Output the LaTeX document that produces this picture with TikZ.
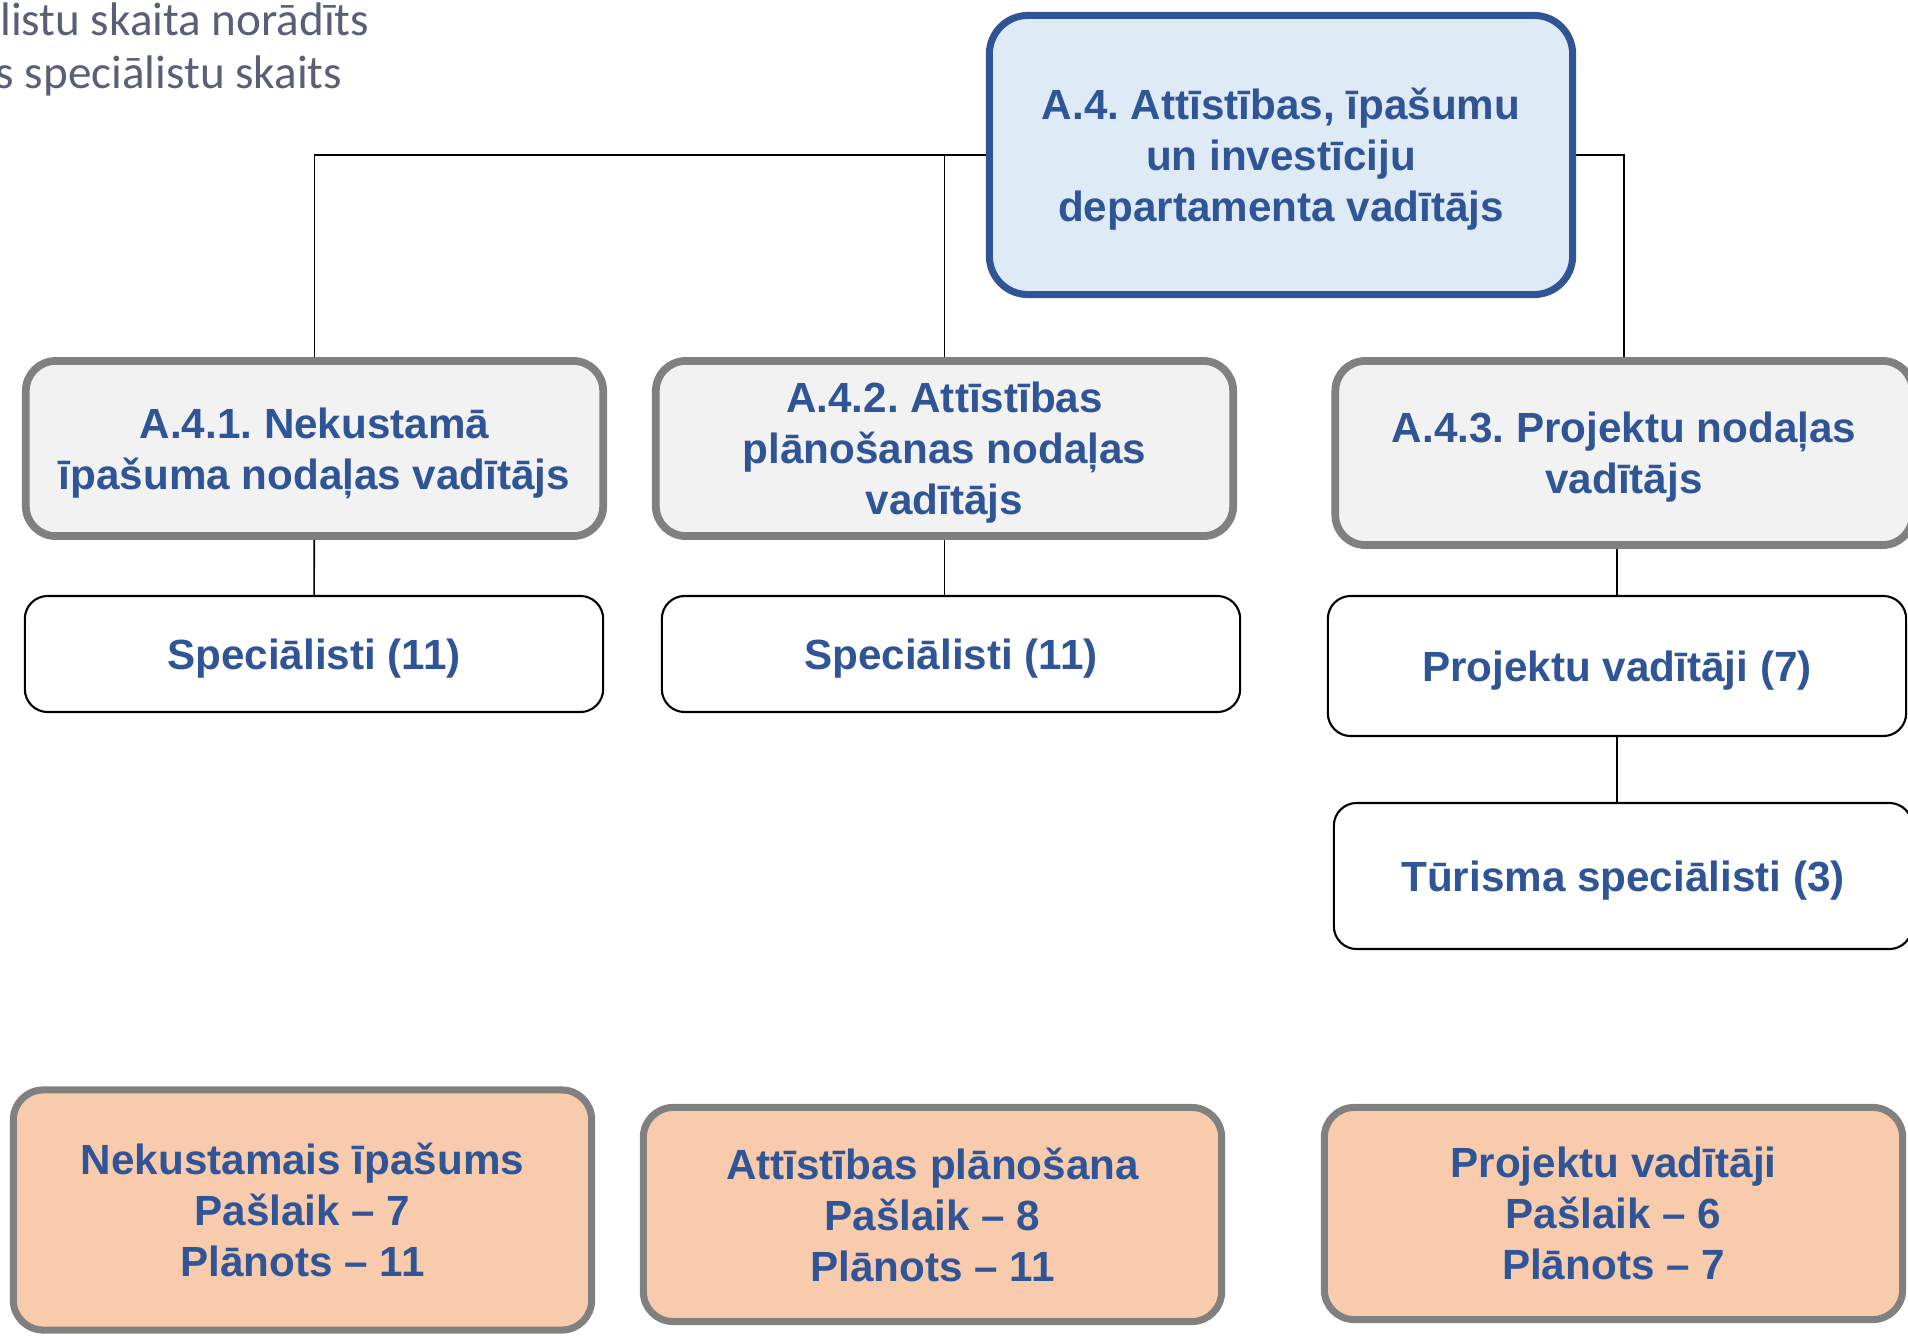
\documentclass[tikz,border=0pt]{standalone}
\usepackage{fontspec}
\setmainfont{Liberation Sans}
\newfontfamily\notefont{Carlito}
\usetikzlibrary{calc}
\frenchspacing

\definecolor{titleblue}{RGB}{47,85,151}
\definecolor{headfill}{RGB}{222,234,246}
\definecolor{boxgray}{RGB}{128,128,128}
\definecolor{deptfill}{RGB}{242,242,242}
\definecolor{sumfill}{RGB}{248,203,173}
\definecolor{notegray}{RGB}{89,95,118}

\begin{document}
\begin{tikzpicture}[x=0.01cm,y=-0.01cm,
  every node/.style={align=center,text=titleblue,inner sep=0pt,text depth=0pt,
    font=\fontsize{12}{14.5}\selectfont\bfseries},
  head node/.style={draw=titleblue,fill=headfill,line width=2pt,rounded corners=11pt,
    minimum width=5.83cm,minimum height=2.79cm},
  dept node/.style={draw=boxgray,fill=deptfill,line width=2.2pt,rounded corners=8.5pt,
    minimum width=5.77cm},
  staff node/.style={draw=black,fill=white,line width=0.6pt,rounded corners=6.5pt,
    minimum width=5.78cm},
  sum node/.style={draw=boxgray,fill=sumfill,line width=2pt,rounded corners=8.5pt,
    minimum width=5.78cm},
  note text/.style={text=notegray,anchor=base east,text depth=,
    font=\notefont\fontsize{13.4}{15}\selectfont},
  link/.style={draw=black,line width=0.45pt}]

\useasboundingbox (0,0) rectangle (1908,1336);

\node[note text](N1) at (370,35) {listu skaita norādīts};
\node[note text](N2) at (343,88) {s speciālistu skaits};

\node[head node](A4) at (1281,155) {A.4. Attīstības, īpašumu\\un investīciju\\departamenta vadītājs};

\node[dept node,minimum height=1.75cm](A41) at (314.5,448.5) {A.4.1. Nekustamā\\īpašuma nodaļas vadītājs};
\node[dept node,minimum height=1.75cm](A42) at (944.5,448.5) {A.4.2. Attīstības\\plānošanas nodaļas\\vadītājs};
\node[dept node,minimum height=1.84cm](A43) at (1624,453) {A.4.3. Projektu nodaļas\\vadītājs};

\node[staff node,minimum height=1.16cm](S1) at (314,654) {Speciālisti (11)};
\node[staff node,minimum height=1.16cm](S2) at (951,654) {Speciālisti (11)};
\node[staff node,minimum height=1.4cm](PV) at (1617,666) {Projektu vadītāji (7)};
\node[staff node,minimum height=1.46cm](TS) at (1623,876) {Tūrisma speciālisti (3)};

\node[sum node,minimum height=2.4cm](B1) at (302.5,1210) {Nekustamais īpašums\\Pašlaik – 7\\Plānots – 11};
\node[sum node,minimum height=2.14cm](B2) at (932.5,1214.5) {Attīstības plānošana\\Pašlaik – 8\\Plānots – 11};
\node[sum node,minimum height=2.12cm](B3) at (1613.5,1213.5) {Projektu vadītāji\\Pašlaik – 6\\Plānots – 7};

\draw[link] (A4) -| (A41);
\draw[link] (A4) -| (A42);
\draw[link] (A4) -| (A43);
\draw[link] (A41) -- (S1);
\draw[link] (A42) -- (A42 |- S2.north);
\draw[link] (PV |- A43.south) -- (PV);
\draw[link] (PV) -- (PV |- TS.north);

\end{tikzpicture}
\end{document}
